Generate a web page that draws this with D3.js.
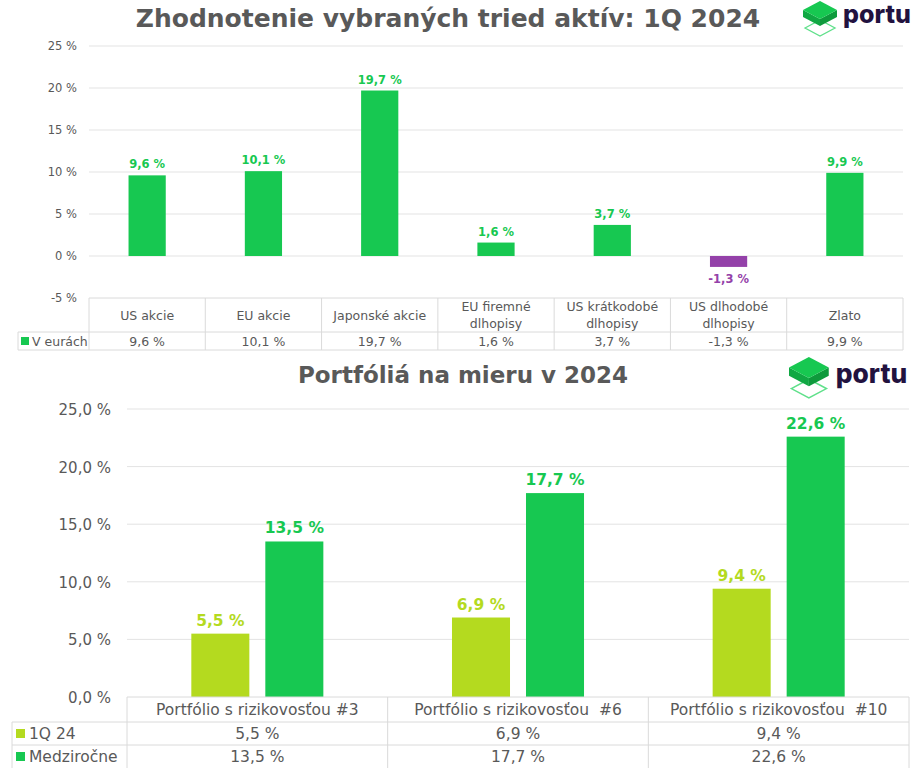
<!DOCTYPE html>
<html><head><meta charset="utf-8">
<script src="https://cdn.jsdelivr.net/npm/d3@7"></script>
<style>
body{margin:0;background:#fff;}
svg{display:block;font-family:"DejaVu Sans",sans-serif;}
text{white-space:pre;}
</style></head>
<body><svg id="c" width="916" height="768"></svg>
<script>
// ---- Data: top chart ----
const assetCategories = [["US akcie"],["EU akcie"],["Japonské akcie"],["EU firemné","dlhopisy"],["US krátkodobé","dlhopisy"],["US dlhodobé","dlhopisy"],["Zlato"]];
const assetValues = [9.6, 10.1, 19.7, 1.6, 3.7, -1.3, 9.9];
const assetSeries = "V eurách";
const topTicks = [-5, 0, 5, 10, 15, 20, 25];
const topTitle = "Zhodnotenie vybraných tried aktív: 1Q 2024";

// ---- Data: bottom chart ----
const portfolios = ["Portfólio s rizikovosťou #3", "Portfólio s rizikovosťou  #6", "Portfólio s rizikovosťou  #10"];
const seriesNames = ["1Q 24", "Medziročne"];
const q1Values = [5.5, 6.9, 9.4];
const yoyValues = [13.5, 17.7, 22.6];
const bottomTicks = [0, 5, 10, 15, 20, 25];
const bottomTitle = "Portfóliá na mieru v 2024";

const GREEN = "#17c851", LIME = "#b4da1f", PURPLE = "#9441a9", GRAY = "#595959", GRID = "#e3e3e3", BORDER = "#dadada";
const fmt1 = v => d3.format(".1f")(v).replace(".", ",").replace("\u2212", "-") + " %";
const fmt0 = v => String(v) + " %";

const svg = d3.select("#c");

function logo(x, y, s, fs) {
  const g = svg.append("g").attr("transform", `translate(${x},${y}) scale(${s})`);
  g.append("polygon").attr("points", "2,27 17,19 32,27 17,35").attr("fill", "none").attr("stroke", "#5fe08a").attr("stroke-width", 1.3);
  g.append("polygon").attr("points", "0,9 17,18 17,25 0,16").attr("fill", "#10a843");
  g.append("polygon").attr("points", "17,18 34,9 34,16 17,25").attr("fill", "#0e9a3c");
  g.append("polygon").attr("points", "0,9 17,0 34,9 17,18").attr("fill", GREEN);
  g.append("text").attr("x", 40).attr("y", 22).attr("font-size", fs).attr("font-weight", 800)
    .attr("font-family", "Inter, Roboto, sans-serif")
    .attr("fill", "#22123f").text("portu");
}

// ================= TOP CHART =================
{
  const L = 89, R = 903;
  const y = d3.scaleLinear().domain([-5, 25]).range([298, 46]);
  const x = d3.scaleBand().domain(d3.range(assetValues.length)).range([L, R]).padding(0);
  const bw = x.bandwidth() * 0.32;

  svg.append("text").attr("x", 448).attr("y", 27).attr("text-anchor", "middle")
    .attr("font-size", 25).attr("font-weight", "bold").attr("fill", GRAY).text(topTitle);
  logo(803, 1, 1, 25);

  svg.append("g").selectAll("line").data(topTicks.filter(t => t > -5)).join("line")
    .attr("x1", L).attr("x2", R).attr("y1", d => y(d)).attr("y2", d => y(d))
    .attr("stroke", GRID).attr("stroke-width", 1);

  svg.append("g").selectAll("text").data(topTicks).join("text")
    .attr("x", 77).attr("y", d => y(d) + 4).attr("text-anchor", "end")
    .attr("font-size", 11.5).attr("fill", GRAY).text(fmt0);

  svg.append("g").selectAll("rect").data(assetValues).join("rect")
    .attr("x", (d, i) => x(i) + (x.bandwidth() - bw) / 2)
    .attr("width", bw)
    .attr("y", d => y(Math.max(0, d)))
    .attr("height", d => Math.abs(y(d) - y(0)))
    .attr("fill", d => d < 0 ? PURPLE : GREEN);

  svg.append("g").selectAll("text").data(assetValues).join("text")
    .attr("x", (d, i) => x(i) + x.bandwidth() / 2)
    .attr("y", d => d < 0 ? y(d) + 16 : y(d) - 7)
    .attr("text-anchor", "middle").attr("font-size", 11.5).attr("font-weight", "bold")
    .attr("fill", d => d < 0 ? PURPLE : GREEN).text(fmt1);

  // data table
  const t0 = 298, t1 = 332, t2 = 350, LL = 18;
  const tg = svg.append("g").attr("stroke", BORDER).attr("stroke-width", 1);
  tg.append("line").attr("x1", L).attr("x2", R).attr("y1", t0).attr("y2", t0);
  tg.append("line").attr("x1", LL).attr("x2", R).attr("y1", t1).attr("y2", t1);
  tg.append("line").attr("x1", LL).attr("x2", R).attr("y1", t2).attr("y2", t2);
  tg.append("line").attr("x1", LL).attr("x2", LL).attr("y1", t1).attr("y2", t2);
  tg.selectAll(".v").data(d3.range(assetValues.length + 1)).join("line")
    .attr("x1", i => i < assetValues.length ? x(i) : R).attr("x2", i => i < assetValues.length ? x(i) : R)
    .attr("y1", t0).attr("y2", t2);

  const hg = svg.append("g").attr("font-size", 12.5).attr("fill", GRAY).attr("text-anchor", "middle");
  assetCategories.forEach((lines, i) => {
    const cx = x(i) + x.bandwidth() / 2;
    const mid = (t0 + t1) / 2;
    lines.forEach((ln, j) => {
      const yy = mid + 4.5 + (j - (lines.length - 1) / 2) * 17;
      hg.append("text").attr("x", cx).attr("y", yy).text(ln);
    });
    hg.append("text").attr("x", cx).attr("y", (t1 + t2) / 2 + 4.5).text(fmt1(assetValues[i]));
  });
  svg.append("rect").attr("x", 21).attr("y", t1 + 5).attr("width", 8).attr("height", 8).attr("fill", GREEN);
  svg.append("text").attr("x", 32).attr("y", (t1 + t2) / 2 + 4.5).attr("font-size", 12.5).attr("fill", GRAY).text(assetSeries);
}

// ================= BOTTOM CHART =================
{
  const L = 127, R = 909;
  const y = d3.scaleLinear().domain([0, 25]).range([697, 409]);
  const x0 = d3.scaleBand().domain(portfolios).range([L, R]).padding(0);
  const groupW = x0.bandwidth() * 0.5065;
  const x1 = d3.scaleBand().domain(seriesNames)
    .range([(x0.bandwidth() - groupW) / 2, (x0.bandwidth() + groupW) / 2]).paddingInner(0.216).paddingOuter(0);
  const colors = d3.scaleOrdinal().domain(seriesNames).range([LIME, GREEN]);
  const seriesValues = [q1Values, yoyValues];

  svg.append("text").attr("x", 463).attr("y", 383).attr("text-anchor", "middle")
    .attr("font-size", 23).attr("font-weight", "bold").attr("fill", GRAY).text(bottomTitle);
  logo(789, 357, 1.17, 22.5);

  svg.append("g").selectAll("line").data(bottomTicks.filter(t => t > 0)).join("line")
    .attr("x1", L).attr("x2", R).attr("y1", d => y(d)).attr("y2", d => y(d))
    .attr("stroke", GRID).attr("stroke-width", 1);

  svg.append("g").selectAll("text").data(bottomTicks).join("text")
    .attr("x", 111).attr("y", d => y(d) + 6).attr("text-anchor", "end")
    .attr("font-size", 15).attr("fill", GRAY).text(d => d3.format(".1f")(d).replace(".", ",") + " %");

  const flat = [];
  seriesNames.forEach((s, si) => portfolios.forEach((p, pi) => flat.push({ s, p, v: seriesValues[si][pi] })));

  svg.append("g").selectAll("rect").data(flat).join("rect")
    .attr("x", d => x0(d.p) + x1(d.s)).attr("width", x1.bandwidth())
    .attr("y", d => y(d.v)).attr("height", d => y(0) - y(d.v))
    .attr("fill", d => colors(d.s));

  svg.append("g").selectAll("text").data(flat).join("text")
    .attr("x", d => x0(d.p) + x1(d.s) + x1.bandwidth() / 2).attr("y", d => y(d.v) - 8)
    .attr("text-anchor", "middle").attr("font-size", 15.5).attr("font-weight", "bold")
    .attr("fill", d => colors(d.s)).text(d => fmt1(d.v));

  // table
  const t0 = 697, t1 = 722, t2 = 745, t3 = 768, LL = 12;
  const tg = svg.append("g").attr("stroke", BORDER).attr("stroke-width", 1);
  tg.append("line").attr("x1", L).attr("x2", R).attr("y1", t0).attr("y2", t0);
  [t1, t2].forEach(t => tg.append("line").attr("x1", LL).attr("x2", R).attr("y1", t).attr("y2", t));
  tg.append("line").attr("x1", LL).attr("x2", LL).attr("y1", t1).attr("y2", t3);
  tg.selectAll(".v").data(d3.range(portfolios.length + 1)).join("line")
    .attr("x1", i => i < portfolios.length ? x0(portfolios[i]) : R).attr("x2", i => i < portfolios.length ? x0(portfolios[i]) : R)
    .attr("y1", t0).attr("y2", t3);

  const hg = svg.append("g").attr("font-size", 15.5).attr("fill", GRAY).attr("text-anchor", "middle");
  portfolios.forEach((p, i) => {
    const cx = x0(p) + x0.bandwidth() / 2;
    hg.append("text").attr("x", cx).attr("y", (t0 + t1) / 2 + 5.5).text(p);
    hg.append("text").attr("x", cx).attr("y", (t1 + t2) / 2 + 5.5).text(fmt1(q1Values[i]));
    hg.append("text").attr("x", cx).attr("y", (t2 + t3) / 2 + 5.5).text(fmt1(yoyValues[i]));
  });
  [[t1, t2], [t2, t3]].forEach(([a, b], si) => {
    svg.append("rect").attr("x", 16).attr("y", (a + b) / 2 - 4.5).attr("width", 9).attr("height", 9).attr("fill", colors(seriesNames[si]));
    svg.append("text").attr("x", 29).attr("y", (a + b) / 2 + 5.5).attr("font-size", 15.5).attr("fill", GRAY).text(seriesNames[si]);
  });
}
</script></body></html>
